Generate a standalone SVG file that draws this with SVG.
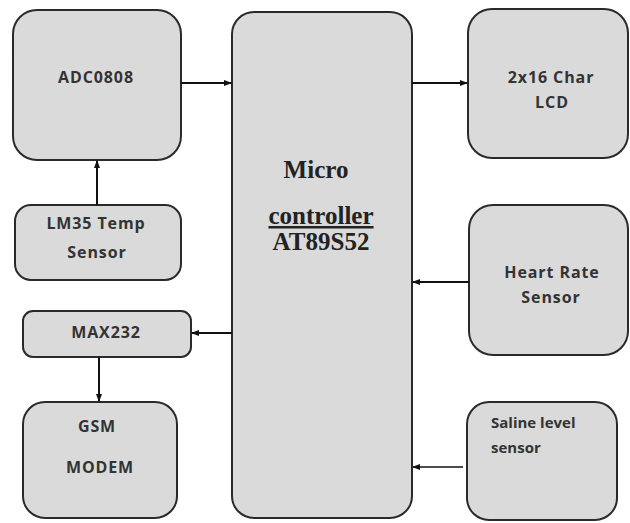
<svg xmlns="http://www.w3.org/2000/svg" width="630" height="523" viewBox="0 0 630 523">
<defs>
<marker id="ah" markerWidth="8" markerHeight="8" refX="7" refY="4" orient="auto" markerUnits="userSpaceOnUse">
<path d="M0,1 L8,4 L0,7 Z" fill="#111"/>
</marker>
</defs>
<style>
.box{fill:#dadada;stroke:#2a2a2a;stroke-width:2}
.t{font-family:"Open Sans","Noto Sans",sans-serif;font-weight:bold;font-size:16px;letter-spacing:0.9px;fill:#333;text-anchor:middle}
.l{text-anchor:start;letter-spacing:0px;font-size:15px}
.s{font-family:"Liberation Serif",serif;font-weight:bold;font-size:25px;fill:#222;text-anchor:middle}
.c{stroke:#111;stroke-width:2;fill:none;marker-end:url(#ah)}
</style>
<rect width="630" height="523" fill="#fff"/>
<g id="adc"><rect class="box" x="13" y="10" width="168" height="150" rx="24"/><text class="t" x="96" y="83">ADC0808</text></g>
<g id="mcu"><rect class="box" x="232" y="12" width="180" height="506" rx="22"/>
<text class="s" x="316" y="178">Micro</text>
<text class="s" x="321" y="224" text-decoration="underline">controller</text>
<text class="s" x="321" y="250">AT89S52</text></g>
<g id="lcd"><rect class="box" x="468" y="9" width="160" height="149" rx="24"/><text class="t" x="551" y="83">2x16 Char</text><text class="t" x="552" y="108">LCD</text></g>
<g id="lm35"><rect class="box" x="15" y="205" width="166" height="75" rx="16"/><text class="t" x="96" y="229">LM35 Temp</text><text class="t" x="97" y="258">Sensor</text></g>
<g id="heart"><rect class="box" x="469" y="205" width="159" height="150" rx="24"/><text class="t" x="552" y="278">Heart Rate</text><text class="t" x="551" y="303">Sensor</text></g>
<g id="max"><rect class="box" x="23" y="311" width="168" height="46" rx="10"/><text class="t" x="106" y="338">MAX232</text></g>
<g id="gsm"><rect class="box" x="23" y="402" width="154" height="116" rx="22"/><text class="t" x="97" y="432">GSM</text><text class="t" x="100" y="473">MODEM</text></g>
<g id="saline"><rect class="box" x="467" y="402" width="150" height="118" rx="22"/><text class="t l" x="491" y="428">Saline level</text><text class="t l" x="491" y="453">sensor</text></g>
<g id="connectors">
<line class="c" x1="181" y1="83" x2="231" y2="83"/>
<line class="c" x1="412" y1="83" x2="467" y2="83"/>
<line class="c" x1="97" y1="205" x2="97" y2="161"/>
<line class="c" x1="232" y1="333" x2="192" y2="333"/>
<line class="c" x1="99" y1="357" x2="99" y2="401"/>
<line class="c" x1="469" y1="282" x2="413" y2="282"/>
<line class="c" x1="463" y1="467" x2="413" y2="467" style="stroke-width:1.5"/>
</g>
</svg>
